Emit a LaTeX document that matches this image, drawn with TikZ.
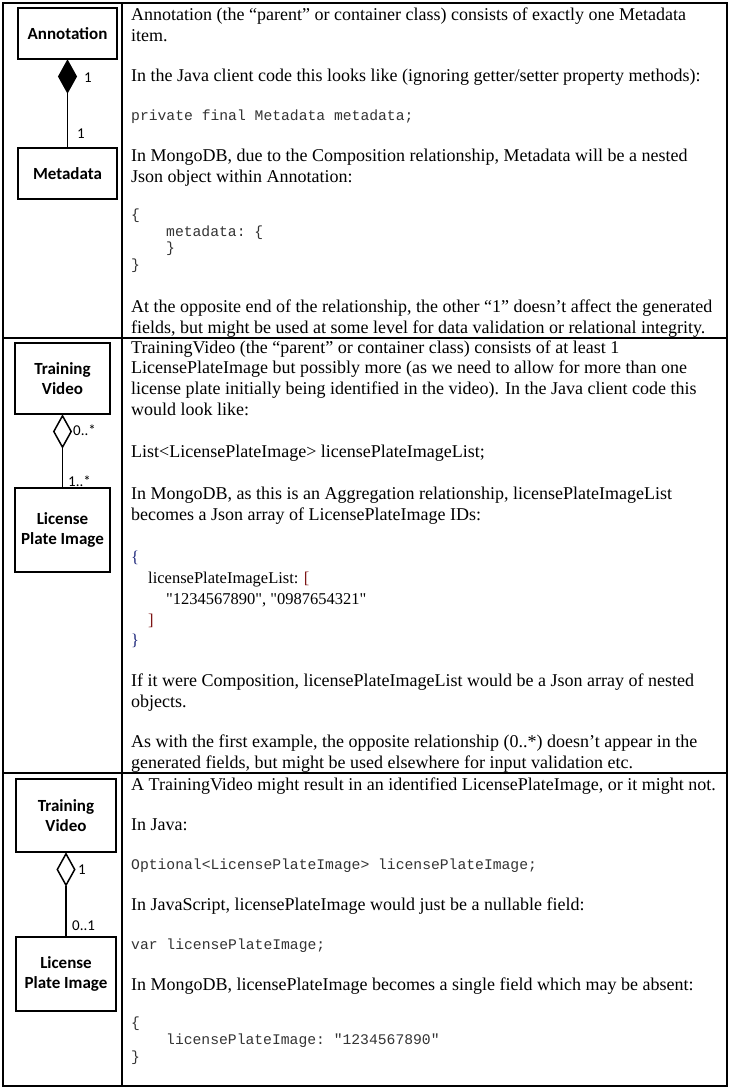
\documentclass[tikz,border=0pt]{standalone}
\usepackage{fontspec}
\setmainfont{Liberation Serif}
\setmonofont{Liberation Mono}
\newfontfamily\calibri{Carlito}
\usepackage{tikz}
\usetikzlibrary{shapes.geometric}
\definecolor{jsonblue}{RGB}{25,35,120}
\definecolor{jsonred}{RGB}{125,20,20}

\begin{document}
\begin{tikzpicture}[x=1pt, y=-1pt,
  umlclass/.style={draw, line width=1.5pt, inner sep=0pt, align=center, font=\calibri\bfseries\fontsize{17}{20.5}\selectfont},
  umldia/.style={diamond, draw, line width=1.5pt, inner sep=0pt, minimum width=18pt, minimum height=32pt, anchor=north},
  mult/.style={font=\calibri\fontsize{15}{18}\selectfont, anchor=base west, inner sep=0pt},
  txt/.style={font=\fontsize{18}{21}\selectfont, anchor=base west, inner sep=0pt},
  json/.style={font=\fontsize{16.5}{20}\selectfont, anchor=base west, inner sep=0pt},
  code/.style={font=\ttfamily\fontsize{14.7}{17}\selectfont, text=black!80, anchor=base west, inner sep=0pt}]

\useasboundingbox (0,0) rectangle (732,1092);

% Table
\draw[line width=1.2pt] (3,3) rectangle (727,1086);
\draw[line width=1.2pt] (122,3) -- (122,1086);
\draw[line width=1.2pt] (3,338) -- (727,338);
\draw[line width=1.2pt] (3,773) -- (727,773);

% First Row
\node[umlclass, minimum width=99pt, minimum height=51pt] (ann) at (67.5,33.5) {Annotation};
\node[umldia, fill=black] (comp) at (ann.south) {};
\node[umlclass, minimum width=99pt, minimum height=51pt] (meta) at (67.5,173.5) {Metadata};
\draw[line width=1.5pt] (comp.south) -- (meta.north);
\node[mult] (m11) at (84,82) {1};
\node[mult] (m12) at (77,138) {1};

\node[txt] (t11) at (131,20) {Annotation (the “parent” or container class) consists of exactly one Metadata};
\node[txt] (t12) at (131,41) {item.};
\node[txt] (t13) at (131,81) {In the Java client code this looks like (ignoring getter/setter property methods):};
\node[code] (c14) at (131,120) {private final Metadata metadata;};
\node[txt] (t15) at (131,161) {In MongoDB, due to the Composition relationship, Metadata will be a nested};
\node[txt] (t16) at (131,182) {Json object within Annotation:};
\node[code] (c17) at (131,219) {\{};
\node[code] (c18) at (166,236) {metadata: \{};
\node[code] (c19) at (166,252) {\}};
\node[code] (c1a) at (131,269) {\}};
\node[txt] (t1b) at (131,312) {At the opposite end of the relationship, the other “1” doesn’t affect the generated};
\node[txt] (t1c) at (131,333) {fields, but might be used at some level for data validation or relational integrity.};

% Second Row
\node[umlclass, minimum width=95pt, minimum height=71pt] (tv1) at (62.5,378.5) {Training\\Video};
\node[umldia, fill=white] (agg1) at (tv1.south) {};
\node[umlclass, minimum width=95pt, minimum height=84pt] (lpi1) at (62.5,530) {License\\Plate Image};
\draw[line width=1.5pt] (agg1.south) -- (lpi1.north);
\node[mult] (m21) at (73,435) {0..*};
\node[mult] (m22) at (68,486) {1..*};

\node[txt] (t21) at (131,353) {TrainingVideo (the “parent” or container class) consists of at least 1};
\node[txt] (t22) at (131,373) {LicensePlateImage but possibly more (as we need to allow for more than one};
\node[txt] (t23) at (131,394) {license plate initially being identified in the video). In the Java client code this};
\node[txt] (t24) at (131,415) {would look like:};
\node[txt] (t25) at (131,457) {List<LicensePlateImage> licensePlateImageList;};
\node[txt] (t26) at (131,499) {In MongoDB, as this is an Aggregation relationship, licensePlateImageList};
\node[txt] (t27) at (131,520) {becomes a Json array of LicensePlateImage IDs:};
\node[json, text=jsonblue] (j21) at (131,562) {\{};
\node[json] (j22) at (148,583) {licensePlateImageList: \textcolor{jsonred}{[}};
\node[json] (j23) at (166,604) {\textquotedbl1234567890\textquotedbl, \textquotedbl0987654321\textquotedbl};
\node[json, text=jsonred] (j24) at (148,625) {]};
\node[json, text=jsonblue] (j25) at (131,645) {\}};
\node[txt] (t28) at (131,686) {If it were Composition, licensePlateImageList would be a Json array of nested};
\node[txt] (t29) at (131,707) {objects.};
\node[txt] (t2a) at (131,747) {As with the first example, the opposite relationship (0..*) doesn’t appear in the};
\node[txt] (t2b) at (131,768) {generated fields, but might be used elsewhere for input validation etc.};

% Third Row
\node[umlclass, minimum width=100pt, minimum height=73pt] (tv2) at (66,815.5) {Training\\Video};
\node[umldia, fill=white] (agg2) at (tv2.south) {};
\node[umlclass, minimum width=100pt, minimum height=74pt] (lpi2) at (66,974) {License\\Plate Image};
\draw[line width=1.5pt] (agg2.south) -- (lpi2.north);
\node[mult] (m31) at (78,874) {1};
\node[mult] (m32) at (72,930) {0..1};

\node[txt] (t31) at (131,790) {A TrainingVideo might result in an identified LicensePlateImage, or it might not.};
\node[txt] (t32) at (131,830) {In Java:};
\node[code] (c33) at (131,869) {Optional<LicensePlateImage> licensePlateImage;};
\node[txt] (t34) at (131,910) {In JavaScript, licensePlateImage would just be a nullable field:};
\node[code] (c35) at (131,949) {var licensePlateImage;};
\node[txt] (t36) at (131,990) {In MongoDB, licensePlateImage becomes a single field which may be absent:};
\node[code] (c37) at (131,1027) {\{};
\node[code] (c38) at (166,1044) {licensePlateImage: "1234567890"};
\node[code] (c39) at (131,1061) {\}};

\end{tikzpicture}
\end{document}
